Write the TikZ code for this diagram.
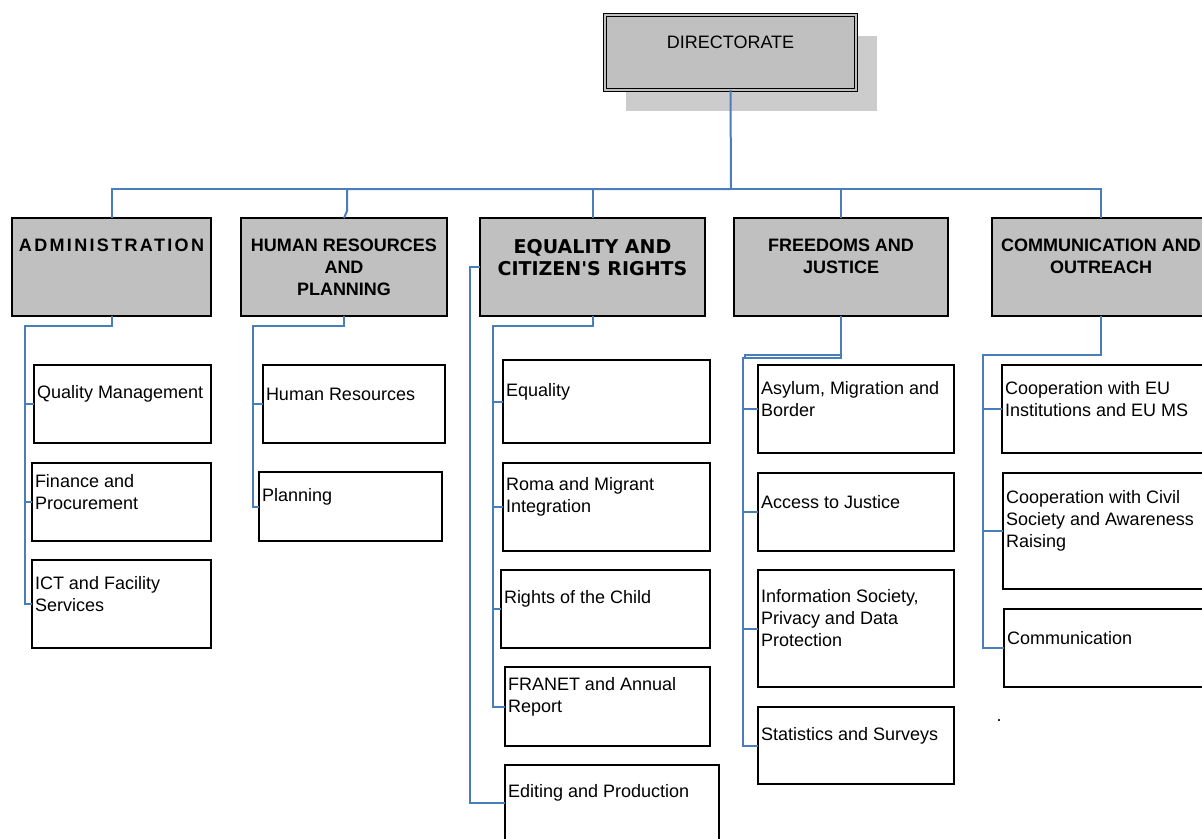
\documentclass[tikz,border=0pt]{standalone}
\usepackage{fontspec}
\setmainfont{Liberation Sans}
\newfontfamily\spacedface{Liberation Sans}[LetterSpace=13]
\newfontfamily\wideface{DejaVu Sans}
\usepackage{tikz}
\usetikzlibrary{positioning,shadows}

\definecolor{unitgray}{RGB}{192,192,192}
\definecolor{shadegray}{RGB}{204,204,204}
\definecolor{linkblue}{RGB}{74,126,187}

\newcommand{\unittext}[3]{\parbox[c][#2pt][t]{#1pt}{\centering\vspace*{21pt}#3}}
\newcommand{\celltext}[3]{\parbox[c][#2pt][c]{#1pt}{\raggedright #3\par\vspace{20pt}}}

\begin{document}
\begin{tikzpicture}[x=1pt,y=-1pt,
        unitbox/.style={draw,line width=1.8pt,fill=unitgray,inner sep=0pt,outer sep=0pt,
          anchor=north west,font=\fontsize{18}{22}\selectfont\bfseries},
        cellbox/.style={draw,line width=1.8pt,fill=white,inner xsep=3pt,inner ysep=0pt,
          outer sep=0pt,anchor=north west,font=\fontsize{18}{22}\selectfont},
        link/.style={draw=linkblue,line width=2pt}]

  \useasboundingbox (0,0) rectangle (1202,838);

  \node[unitbox,font=\fontsize{18}{22}\selectfont,line width=1.6pt,double=unitgray,double distance=1.5pt,
        drop shadow={shadow xshift=21pt,shadow yshift=-21pt,fill=shadegray,opacity=1}]
        (dir) at (605,15) {\unittext{251}{75}{DIRECTORATE}};

  \node[unitbox,font=\fontsize{18}{22}\selectfont\spacedface\bfseries] (adm) at (12,218)
        {\unittext{199}{98}{ADMINISTRATION}};
  \node[unitbox] (hrp) at (241,218) {\unittext{206}{98}{HUMAN RESOURCES\\AND\\PLANNING}};
  \node[unitbox,font=\fontsize{19}{22}\selectfont\wideface\bfseries] (eqr) at (480,218)
        {\unittext{225}{98}{EQUALITY AND\\CITIZEN\textquotesingle S RIGHTS}};
  \node[unitbox] (fjs) at (734,218) {\unittext{214}{98}{FREEDOMS AND\\JUSTICE}};
  \node[unitbox] (com) at (992,218) {\unittext{218}{98}{COMMUNICATION AND\\OUTREACH}};

  \node[cellbox] (qm) at (34,365) {\celltext{171}{78}{Quality Management}};
  \node[cellbox,below=20pt of qm.south west,anchor=north west,xshift=-2pt] (fp)
        {\celltext{173}{78}{Finance and\\Procurement}};
  \node[cellbox,below=19pt of fp.south west,anchor=north west] (ict)
        {\celltext{173}{88}{ICT and Facility\\Services}};

  \node[cellbox] (hr) at (263,365) {\celltext{176}{78}{Human Resources}};
  \node[cellbox,below=29pt of hr.south west,anchor=north west,xshift=-4pt] (pl)
        {\celltext{177}{69}{Planning}};

  \node[cellbox] (eq) at (503,360) {\celltext{201}{83}{Equality}};
  \node[cellbox,below=20pt of eq.south west,anchor=north west] (rmi)
        {\celltext{201}{88}{Roma and Migrant\\Integration}};
  \node[cellbox,below=19pt of rmi.south west,anchor=north west,xshift=-2pt] (rc)
        {\celltext{203}{78}{Rights of the Child}};
  \node[cellbox,below=19pt of rc.south west,anchor=north west,xshift=4pt] (fr)
        {\celltext{199}{79}{FRANET and Annual\\Report}};
  \node[cellbox,below=19pt of fr.south west,anchor=north west] (ed)
        {\celltext{208}{76}{Editing and Production}};

  \node[cellbox] (amb) at (758,365) {\celltext{190}{88}{Asylum, Migration and\\Border}};
  \node[cellbox,below=20pt of amb.south west,anchor=north west] (aj)
        {\celltext{190}{78}{Access to Justice}};
  \node[cellbox,below=19pt of aj.south west,anchor=north west] (isp)
        {\celltext{190}{117}{Information Society,\\Privacy and Data\\Protection}};
  \node[cellbox,below=20pt of isp.south west,anchor=north west] (ss)
        {\celltext{190}{77}{Statistics and Surveys}};

  \node[cellbox] (ceu) at (1002,365) {\celltext{204}{88}{Cooperation with EU\\Institutions and EU MS}};
  \node[cellbox,below=20pt of ceu.south west,anchor=north west,xshift=1pt] (ccs)
        {\celltext{204}{116}{Cooperation with Civil\\Society and Awareness\\Raising}};
  \node[cellbox,below=20pt of ccs.south west,anchor=north west,xshift=1pt] (cm)
        {\celltext{204}{78}{Communication}};

  \node[anchor=base,inner sep=0pt,font=\fontsize{18}{22}\selectfont] (dot) at (999,721) {.};

  % connectors
  \coordinate (bus) at (731,189);
  \coordinate (admtop) at (25,326);
  \coordinate (hrtop) at (253,326);
  \coordinate (eqtop) at (493,326);
  \coordinate (eqside) at (470,267);
  \coordinate (fjtop) at (743,358);
  \coordinate (fjtop2) at (745,355);
  \coordinate (comtop) at (983,355);

  \draw[link] (dir.south) -- (bus);
  \draw[link] (bus) -| ([shift={(3,-7)}]hrp.north) -- (hrp.north);
  \foreach \n in {adm,eqr,fjs,com}
    \draw[link] (bus) -| (\n.north);

  \draw[link] (adm.south) |- (admtop) |- (ict.west);
  \foreach \n in {qm,fp}
    \draw[link] (admtop |- \n.west) -- (\n.west);

  \draw[link] (hrp.south) |- (hrtop) |- (pl.west);
  \draw[link] (hrtop |- hr.west) -- (hr.west);

  \draw[link] (eqr.south) |- (eqtop) |- (fr.west);
  \foreach \n in {eq,rmi,rc}
    \draw[link] (eqtop |- \n.west) -- (\n.west);
  \draw[link] (eqr.west) -- (eqside) |- (ed.west);

  \draw[link] (fjs.south) |- (fjtop) |- (ss.west);
  \draw[link] (fjs.south) |- (fjtop2) -- (fjtop2 |- fjtop);
  \foreach \n in {amb,aj,isp}
    \draw[link] (fjtop |- \n.west) -- (\n.west);

  \draw[link] (com.south) |- (comtop) |- (cm.west);
  \foreach \n in {ceu,ccs}
    \draw[link] (comtop |- \n.west) -- (\n.west);

\end{tikzpicture}
\end{document}
